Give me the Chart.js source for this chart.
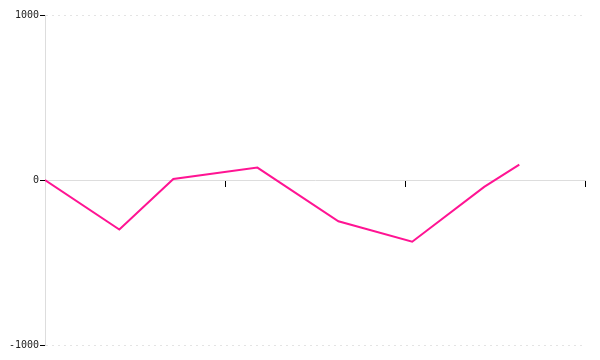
<!DOCTYPE html>
<html>
<head>
<meta charset="utf-8">
<script src="https://cdn.jsdelivr.net/npm/chart.js@4/dist/chart.umd.min.js"></script>
<style>
  html, body { margin: 0; padding: 0; background: #fff; }
  #wrap { width: 600px; height: 360px; }
</style>
</head>
<body>
<div id="wrap"><canvas id="lineChart"></canvas></div>
<script>
// values
var xValues = [0, 0.413, 0.713, 1.18, 1.63, 2.04, 2.44, 2.635];
var yValues = [0, -300, 6, 75, -250, -374, -42, 93];
var yTicks = [-1000, 0, 1000];
var xTicks = [0, 1, 2, 3];

var points = [];
for (var i = 0; i < xValues.length; i++) {
    points.push({x: xValues[i], y: yValues[i]});
}

var ctx = document.getElementById("lineChart").getContext('2d');
var myChart = new Chart(ctx, {
    type: 'line',
    data: {
        datasets: [{
            data: points,
            borderColor: '#ff1493',
            borderWidth: 2,
            pointRadius: 0,
            tension: 0,
            fill: false
        }]
    },
    options: {
        responsive: true,
        maintainAspectRatio: false,
        animation: false,
        events: [],
        layout: { padding: { top: 15, right: 15, bottom: 15, left: 0 } },
        plugins: { legend: { display: false }, tooltip: { enabled: false } },
        scales: {
            x: {
                type: 'linear',
                position: { y: 0 },
                min: xTicks[0],
                max: xTicks[xTicks.length - 1],
                afterBuildTicks: function(s) { s.ticks = xTicks.map(function(v) { return {value: v}; }); },
                ticks: { display: false },
                grid: { drawOnChartArea: false, tickLength: 6, tickColor: '#000', tickWidth: 1 },
                border: { color: '#dddddd', width: 1 }
            },
            y: {
                min: yTicks[0],
                max: yTicks[yTicks.length - 1],
                afterBuildTicks: function(s) { s.ticks = yTicks.map(function(v) { return {value: v}; }); },
                afterFit: function(s) { s.width = 45; },
                ticks: {
                    padding: 1,
                    color: '#222',
                    font: { family: 'DejaVu Sans Mono', size: 10 },
                    callback: function(v) { return String(v); }
                },
                grid: {
                    color: '#e4e4e4',
                    tickColor: '#000',
                    tickLength: 5,
                    tickBorderDash: []
                },
                border: { color: '#dddddd', width: 1, dash: [2, 4] }
            }
        }
    }
});
</script>
</body>
</html>
